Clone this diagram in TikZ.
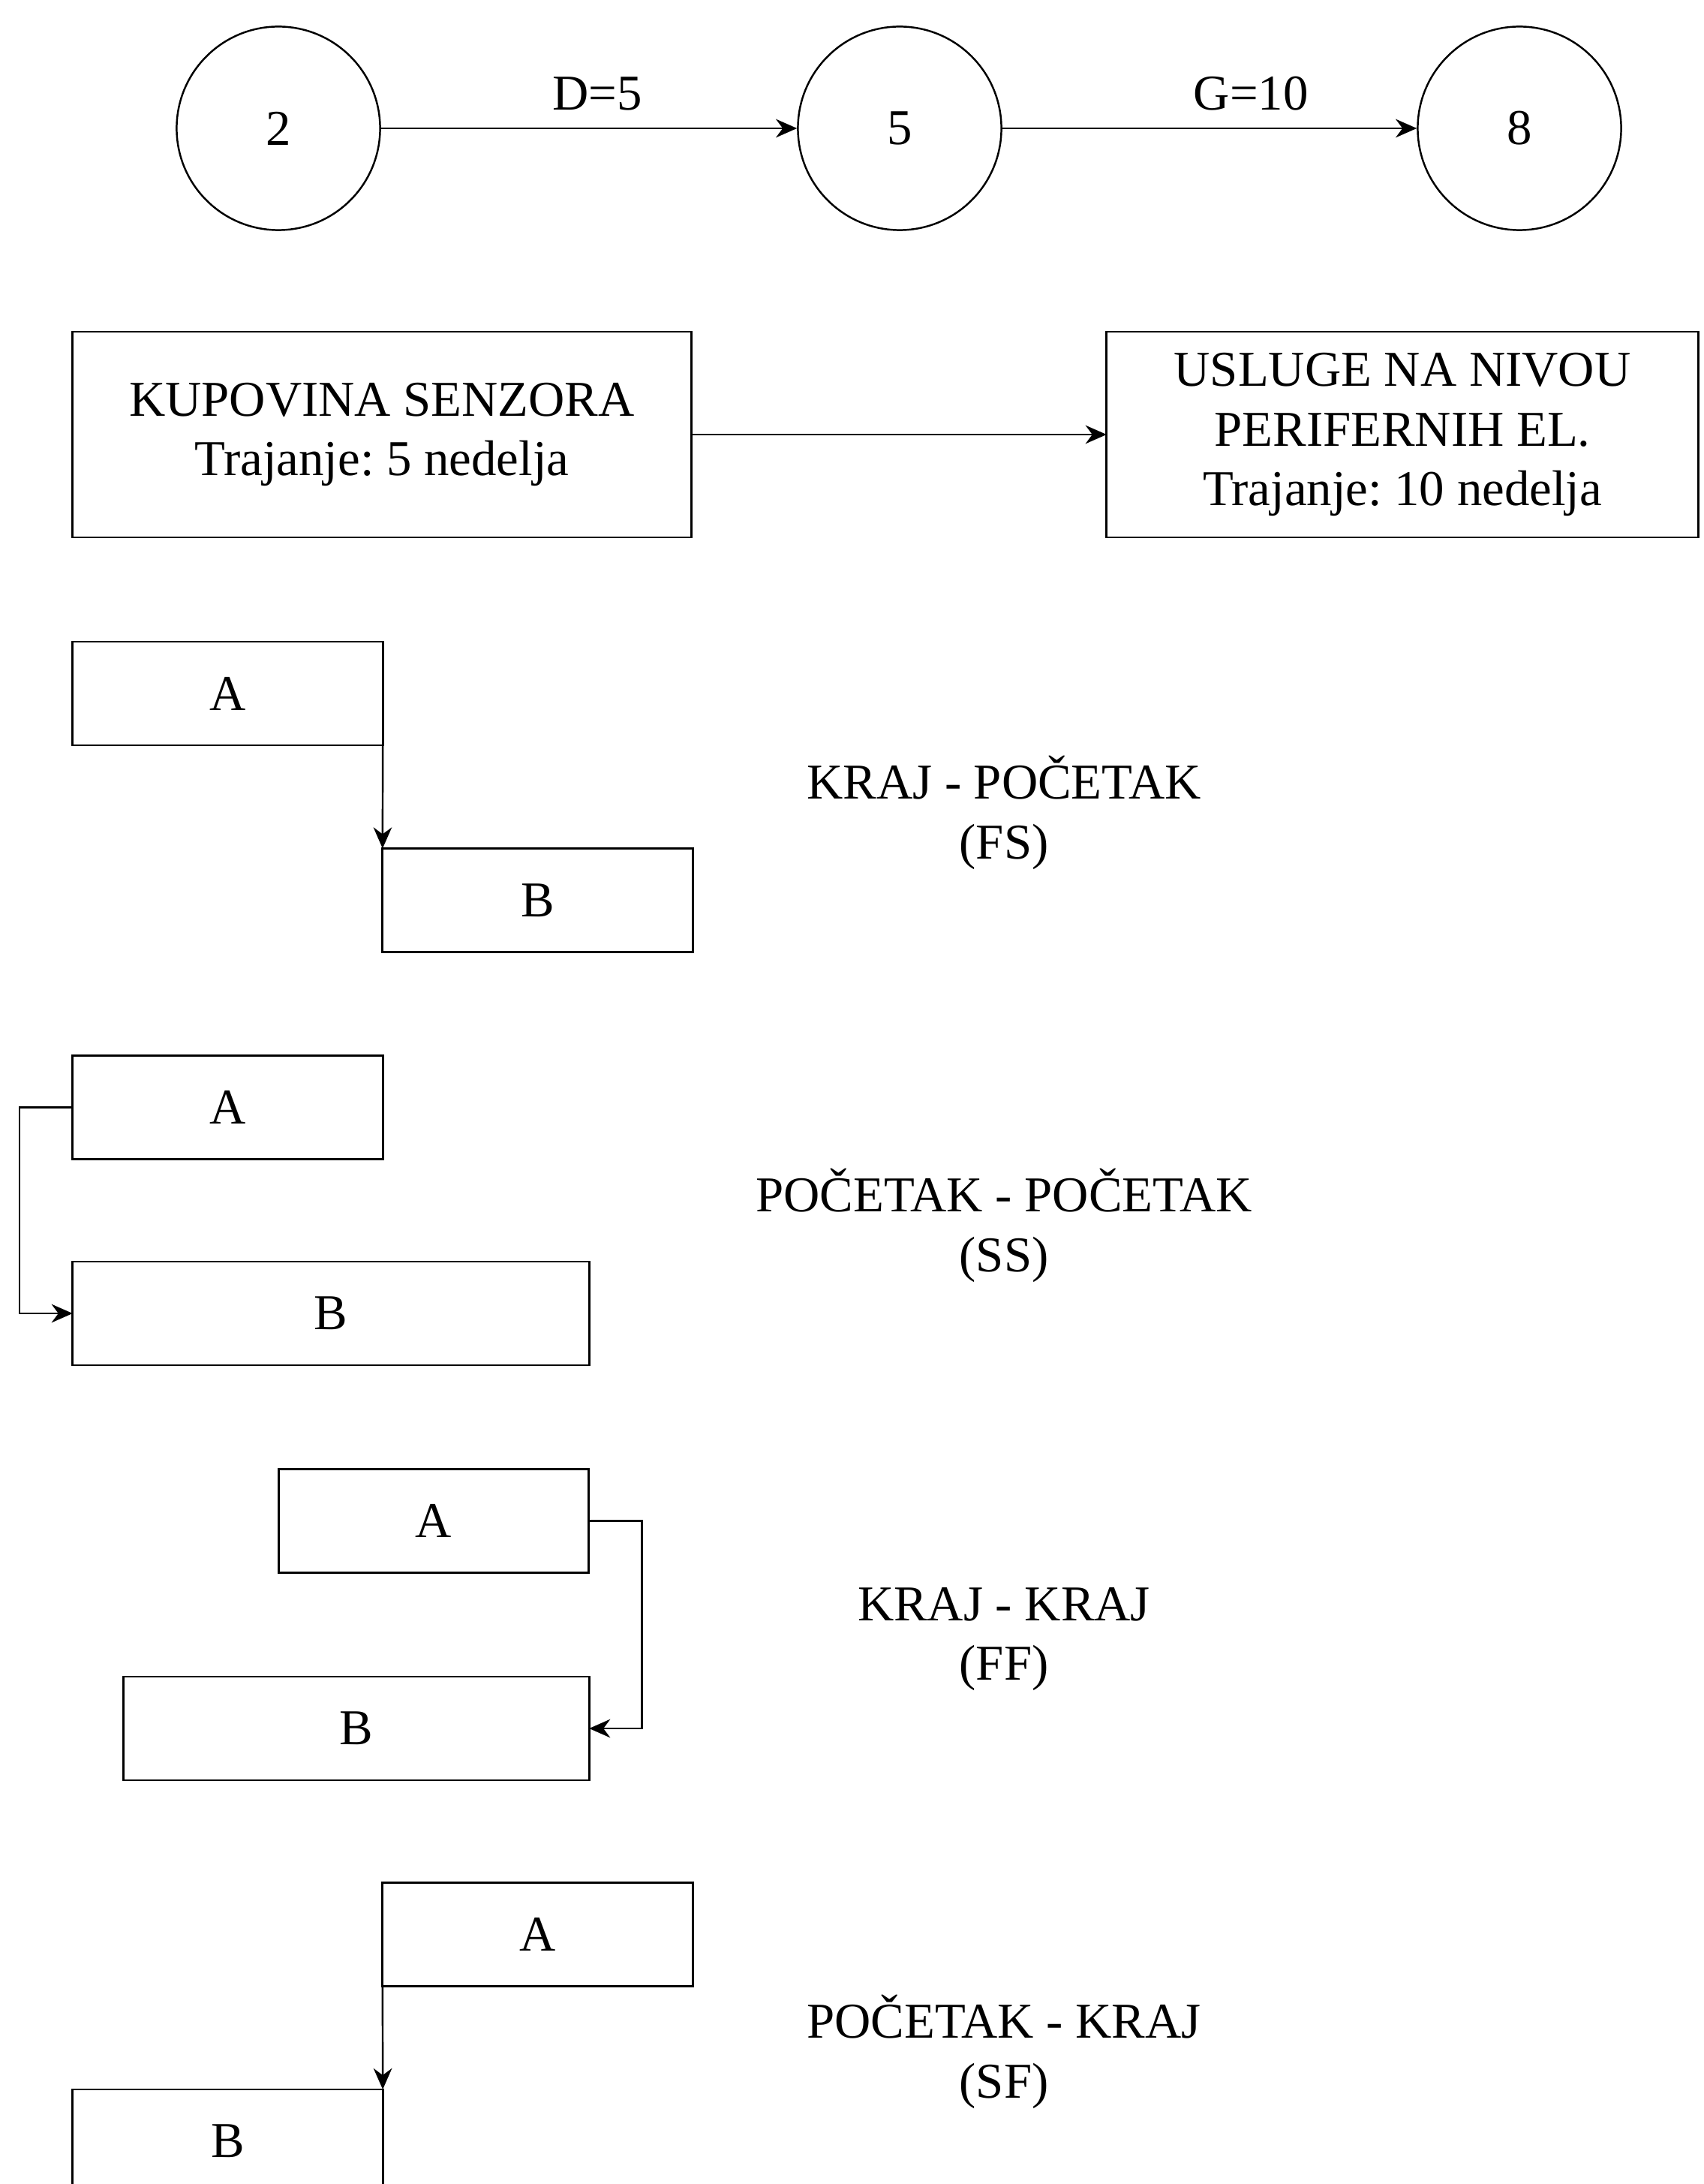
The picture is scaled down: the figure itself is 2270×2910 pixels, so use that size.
\documentclass[tikz,border=0pt]{standalone}
\usepackage{fontspec}
\setmainfont{Liberation Serif}
\frenchspacing
\usetikzlibrary{arrows.meta}

\begin{document}
\begin{tikzpicture}[
        x=0.01cm, y=-0.01cm,
        txt/.style={font=\fontsize{19}{22.7}\selectfont},
        event/.style={draw, circle, line width=0.7pt, minimum size=2.71cm, inner sep=0pt, txt},
        box/.style={draw, rectangle, line width=0.8pt, outer sep=0pt, minimum width=4.13cm, minimum height=1.38cm, align=center, inner sep=0pt, txt},
        bigbox/.style={box, minimum width=8.25cm, minimum height=2.74cm},
        lbl/.style={align=center, txt},
        arrow/.style={line width=0.7pt, -{Stealth[length=8pt, width=7pt]}}
    ]
    
    % Fix the page size
    \useasboundingbox (0,0) rectangle (2270,2910);
    
    % Events on the arrow diagram
    \node[event] (ev2) at (371,171) {2};
    \node[event] (ev5) at (1199,171) {5};
    \node[event] (ev8) at (2025,171) {8};
    
    \draw[arrow] (ev2) -- node[lbl, pos=0.52, above=3pt] {D=5} (ev5);
    \draw[arrow] (ev5) -- node[lbl, pos=0.6, above=3pt] {G=10} (ev8);
    
    % Activities on nodes
    \node[bigbox] (kupovina) at (509,579) {KUPOVINA SENZORA\\Trajanje: 5 nedelja};
    \node[bigbox, minimum width=7.88cm] (usluge) at (1869,579) {USLUGE NA NIVOU\\PERIFERNIH EL.\\Trajanje: 10 nedelja};
    
    \draw[arrow] (kupovina) -- (usluge);
    
    % Finish - start
    \node[box] (fsA) at (303.5,924) {A};
    \node[box] (fsB) at (716.5,1199.5) {B};
    \node[lbl] (fs) at (1338,1083) {KRAJ - POČETAK\\(FS)};
    
    \draw[arrow] (fsA.south east) -- (fsB.north west);
    
    % Start - start
    \node[box] (ssA) at (303.5,1475.5) {A};
    \node[box, minimum width=6.88cm] (ssB) at (441,1750) {B};
    \node[lbl] (ss) at (1338,1633) {POČETAK - POČETAK\\(SS)};
    
    \draw[arrow] (ssA.west) -- ++(-71,0) |- (ssB.west);
    
    % Finish - finish
    \node[box] (ffA) at (578,2026.5) {A};
    \node[box, minimum width=6.2cm] (ffB) at (475,2303) {B};
    \node[lbl] (ff) at (1338,2184) {KRAJ - KRAJ\\(FF)};
    
    \draw[arrow] (ffA.east) -- ++(71,0) |- (ffB.east);
    
    % Start - finish
    \node[box] (sfA) at (716.5,2577.5) {A};
    \node[box] (sfB) at (303.5,2853) {B};
    \node[lbl] (sf) at (1338,2734) {POČETAK - KRAJ\\(SF)};
    
    \draw[arrow] (sfA.south west) -- (sfB.north east);
    
    \end{tikzpicture}
\end{document}
